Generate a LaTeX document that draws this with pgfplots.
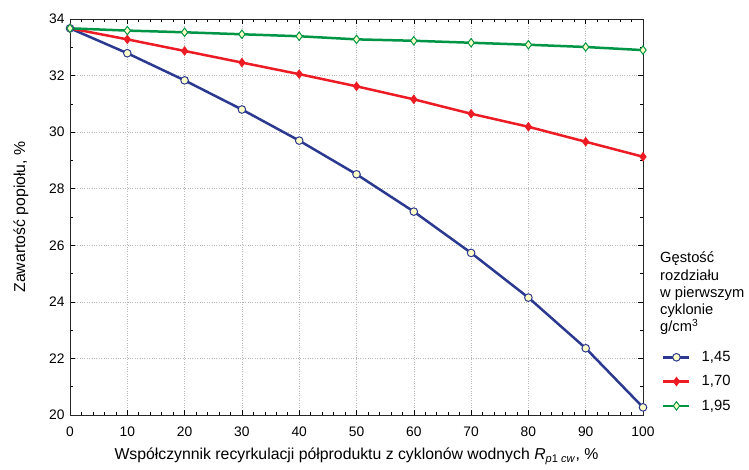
\documentclass[border=0pt]{standalone}
\usepackage{pgfplots}
\pgfplotsset{compat=1.18}
\usepackage{fontspec}
\setmainfont{Liberation Sans}
\definecolor{cblue}{RGB}{43,57,144}
\definecolor{cred}{RGB}{237,28,36}
\definecolor{cgreen}{RGB}{0,150,70}
\definecolor{cfill}{RGB}{255,255,200}
\begin{document}
\begin{tikzpicture}
\begin{axis}[
  at={(0pt,0pt)}, anchor=south west,
  scale only axis, width=573pt, height=396pt,
  xmin=0, xmax=100, ymin=20, ymax=34,
  xtick={0,10,...,100}, ytick={20,22,...,34},
  minor x tick num=4, minor y tick num=1,
  tick align=inside,
  major tick length=5pt, minor tick length=3pt,
  every tick/.style={black, line width=0.6pt},
  axis line style={black!85, line width=0.8pt},
  grid=major,
  major grid style={gray!55, dotted, line width=0.6pt},
  tick label style={font=\fontsize{13.8}{16}\selectfont},
  /pgf/number format/assume math mode=true,
  /pgf/number format/use comma,
  xticklabel style={yshift=-8pt},
  yticklabel style={xshift=-2pt},
  every axis x label/.style={at={(axis description cs:0.5,0)}, anchor=base, yshift=-45pt},
  every axis y label/.style={at={(axis description cs:0,0.5)}, xshift=-49pt, rotate=90, anchor=center},
  label style={font=\fontsize{15.8}{18}\selectfont},
  xlabel={Współczynnik recyrkulacji półproduktu z cyklonów wodnych \textit{R}\textsubscript{\textit{p}1 \textit{cw}}, \%},
  ylabel={Zawartość popiołu, \%},
  legend style={draw=none, fill=none, at={(axis description cs:1,0)}, anchor=south west,
    xshift=19pt, yshift=1pt, inner sep=0pt, row sep=8.5pt,
    font=\fontsize{14.8}{17}\selectfont},
  legend cell align=left,
  legend image code/.code={\draw[mark repeat=2,mark phase=2] plot coordinates {(0pt,0pt)(13pt,0pt)(26pt,0pt)};},
  /tikz/every odd column/.append style={column sep=9pt},
  clip=false,
]
\addplot[cblue, line width=2.5pt, mark=*, mark size=3.8pt, mark options={fill=cfill, draw=cblue, line width=1pt}]
coordinates {(0,33.67)(10,32.79)(20,31.83)(30,30.80)(40,29.70)(50,28.51)(60,27.19)(70,25.73)(80,24.15)(90,22.36)(100,20.27)};
\addlegendentry{1,45}
\addplot[cred, line width=2.5pt, mark=diamond*, mark size=4.2pt, mark options={fill=cred, draw=cred, line width=0.8pt}]
coordinates {(0,33.67)(10,33.28)(20,32.87)(30,32.46)(40,32.05)(50,31.62)(60,31.16)(70,30.65)(80,30.19)(90,29.66)(100,29.13)};
\addlegendentry{1,70}
\addplot[cgreen, line width=2.5pt, mark=diamond*, mark size=4.2pt, mark options={fill=cfill, draw=cgreen, line width=1pt}]
coordinates {(0,33.67)(10,33.59)(20,33.53)(30,33.46)(40,33.39)(50,33.28)(60,33.23)(70,33.16)(80,33.09)(90,33.01)(100,32.90)};
\addlegendentry{1,95}
\end{axis}
\begin{scope}[every node/.style={anchor=base west, inner sep=0pt, font=\fontsize{14.7}{17}\selectfont}]
\node at (590pt,152pt) {Gęstość};
\node at (590pt,134.8pt) {rozdziału};
\node at (590pt,117.6pt) {w pierwszym};
\node at (590pt,100.4pt) {cyklonie};
\node at (590pt,83.2pt) {g/cm\textsuperscript{3}};
\end{scope}
\pgfresetboundingbox
\path[use as bounding box] (-70pt,-55pt) rectangle (679pt,415pt);
\end{tikzpicture}
\end{document}
